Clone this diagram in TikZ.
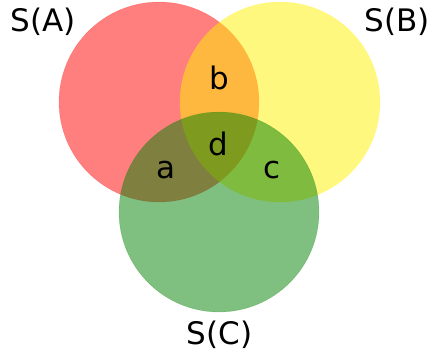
\documentclass[tikz,border=0pt]{standalone}
\usepackage{fontspec}
\setmainfont{DejaVu Sans}
\begin{document}
\begin{tikzpicture}[x=1pt,y=-1pt,
  setcirc/.style={fill opacity=0.5, draw opacity=0.3, line width=0.3pt},
  lbl/.style={font=\fontsize{31}{33}\selectfont, inner sep=0pt}]
\useasboundingbox (0,0) rectangle (429,360);
\fill[white] (0,0) rectangle (429,360);
\filldraw[setcirc, fill=red, draw=red] (159,102) circle[radius=100];
\filldraw[setcirc, fill=yellow, draw=yellow] (280,102) circle[radius=100];
\filldraw[setcirc, fill={rgb,255:red,0;green,128;blue,0}, draw={rgb,255:red,0;green,128;blue,0}] (219,212) circle[radius=100];
\node[lbl] (sa) at (43,22) {S(A)};
\node[lbl] (sb) at (397,22) {S(B)};
\node[lbl] (sc) at (219.5,335) {S(C)};
\node[lbl] (b) at (219,78) {b};
\node[lbl] (d) at (218,144) {d};
\node[lbl] (a) at (166,170) {a};
\node[lbl] (c) at (272,170) {c};
\end{tikzpicture}
\end{document}
